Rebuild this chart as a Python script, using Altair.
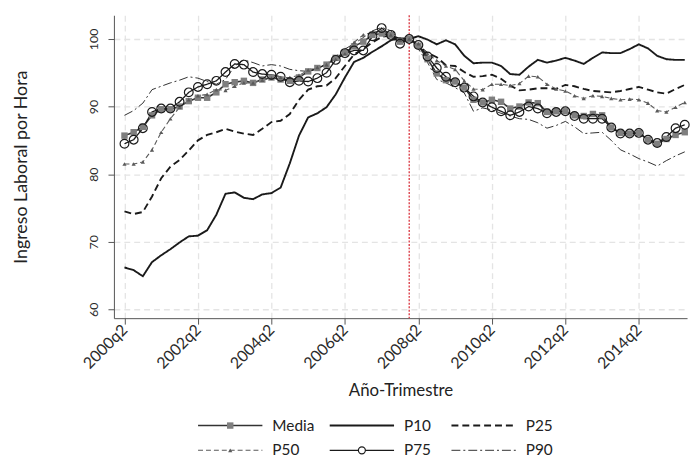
import altair as alt
import pandas as pd

SERIES = ["Media", "P10", "P25", "P50", "P75", "P90"]

MEDIA = [85.7, 86.2, 87.0, 88.7, 89.6, 89.6, 90.0, 90.8, 91.3, 91.3,
         92.1, 93.3, 93.6, 93.8, 93.5, 94.0, 94.3, 94.0, 93.8, 94.3,
         95.2, 95.7, 96.2, 97.2, 98.0, 98.9, 99.6, 100.6, 100.8, 100.6,
         99.6, 100.0, 99.0, 97.0, 94.9, 93.9, 93.7, 92.8, 91.0, 90.6,
         91.0, 90.7, 89.7, 90.0, 90.6, 90.5, 89.2, 89.3, 89.3, 88.7,
         88.6, 88.9, 88.7, 86.9, 86.1, 86.0, 86.1, 85.1, 84.5, 85.2,
         85.8, 86.2]
P10 = [66.2, 65.8, 64.9, 67.0, 68.0, 68.9, 69.9, 70.8, 70.9, 71.7,
       74.0, 77.1, 77.3, 76.5, 76.3, 77.0, 77.2, 78.0, 81.6, 85.7,
       88.4, 89.0, 89.9, 91.8, 94.3, 96.6, 97.2, 98.1, 98.9, 99.8,
       100.1, 100.0, 100.4, 99.9, 99.2, 99.8, 99.2, 97.5, 96.4, 96.5,
       96.5, 96.0, 94.8, 94.7, 95.9, 96.9, 96.5, 96.8, 97.2, 96.8,
       96.3, 97.2, 98.0, 97.9, 97.9, 98.5, 99.2, 98.6, 97.5, 97.0,
       96.9, 96.9]
P25 = [74.5, 74.1, 74.4, 76.7, 79.4, 81.1, 82.1, 83.5, 85.0, 85.8,
       86.2, 86.7, 86.3, 86.0, 85.8, 86.7, 87.7, 87.9, 88.9, 91.0,
       92.5, 93.0, 93.1, 94.2, 96.0, 97.7, 98.5, 99.5, 100.3, 100.5,
       100.0, 100.0, 99.0, 97.9, 97.3, 96.1, 96.0, 95.1, 94.4, 94.5,
       94.7, 94.1, 93.1, 92.4, 92.5, 92.7, 92.7, 92.6, 93.2, 93.0,
       92.6, 92.3, 92.2, 92.1, 92.3, 92.6, 92.9, 92.5, 92.1, 91.9,
       92.6, 93.2]
P50 = [81.5, 81.5, 81.8, 83.6, 86.2, 88.2, 89.9, 91.0, 91.6, 91.8,
       92.5, 92.4, 93.0, 93.5, 93.5, 93.9, 94.2, 94.3, 94.3, 94.6,
       95.4, 95.8, 96.2, 97.0, 97.8, 99.5, 100.6, 101.0, 101.2, 100.6,
       99.8, 100.0, 99.3, 97.8, 96.8, 96.0, 95.5, 93.8, 92.6, 92.5,
       93.3, 93.3, 93.1, 93.4, 94.5, 94.4, 93.3, 92.6, 92.3, 91.6,
       91.2, 91.6, 91.5, 91.2, 91.0, 91.1, 91.0, 90.5, 89.4, 89.2,
       89.9, 90.6]
P75 = [84.5, 85.1, 86.8, 89.2, 89.7, 89.7, 90.7, 92.1, 92.9, 93.3,
       93.8, 95.1, 96.3, 96.2, 95.1, 94.8, 94.7, 94.4, 93.6, 93.8,
       93.7, 94.2, 95.0, 96.9, 97.9, 98.3, 98.3, 100.4, 101.6, 100.6,
       99.3, 100.0, 99.1, 97.4, 95.7, 94.4, 93.6, 92.8, 91.5, 90.6,
       89.9, 89.3, 88.7, 89.2, 90.0, 89.7, 89.0, 89.2, 89.3, 88.6,
       88.2, 88.2, 88.2, 86.9, 86.0, 86.0, 86.1, 85.1, 84.6, 85.5,
       86.8, 87.3]
P90 = [88.7, 89.4, 90.5, 92.5, 93.0, 93.5, 93.9, 94.4, 94.2, 93.7,
       93.3, 94.0, 96.0, 96.9, 96.5, 96.0, 96.2, 96.0, 95.5, 95.3,
       95.2, 95.5, 96.4, 97.4, 98.5, 99.3, 100.2, 101.2, 101.7, 101.2,
       99.8, 100.0, 98.5, 96.5, 94.0, 93.5, 92.8, 92.0, 89.3, 89.8,
       89.5, 89.0, 88.6, 88.2, 88.1, 87.6, 86.8, 87.2, 87.8, 87.0,
       86.0, 86.1, 86.2, 85.0, 83.6, 83.0, 82.3, 81.8, 81.2, 82.0,
       82.7, 83.3]

TICK_VALUES = [0, 8, 16, 24, 32, 40, 48, 56]
TICK_LABELS = ["2000q2", "2002q2", "2004q2", "2006q2",
               "2008q2", "2010q2", "2012q2", "2014q2"]
Y_TICKS = [60, 70, 80, 90, 100]
BASE_Q = [31]  # 2008q1

FONT = "Lato"

STYLE = {
    "Media": dict(color="#333333", strokeWidth=1.6, strokeDash=[1, 0]),
    "P10": dict(color="#1a1a1a", strokeWidth=1.9, strokeDash=[1, 0]),
    "P25": dict(color="#1a1a1a", strokeWidth=1.9, strokeDash=[7, 4]),
    "P50": dict(color="#5a5a5a", strokeWidth=1.1, strokeDash=[5, 3]),
    "P75": dict(color="#1a1a1a", strokeWidth=1.3, strokeDash=[1, 0]),
    "P90": dict(color="#1a1a1a", strokeWidth=0.9, strokeDash=[9, 3, 2, 3]),
}
MARKERS = {
    "Media": dict(shape="square", filled=True, color="#7f7f7f", size=42, opacity=1),
    "P50": dict(shape="triangle-up", filled=True, color="#5a5a5a", size=18, opacity=1),
    "P75": dict(shape="circle", filled=False, color="#1a1a1a", size=78,
                strokeWidth=1.2, opacity=1),
}

rows = []
for name, vals in zip(SERIES, [MEDIA, P10, P25, P50, P75, P90]):
    for i, v in enumerate(vals):
        rows.append({"serie": name, "t": i, "v": v})
df = pd.DataFrame(rows)

W, H = 579, 306
label_expr = "[" + ",".join("'%s'" % s for s in TICK_LABELS) + "][indexof(" + \
    "[" + ",".join(str(v) for v in TICK_VALUES) + "], datum.value)]"

x_enc = alt.X("t:Q", scale=alt.Scale(domain=[-1.15, 61.25], nice=False, zero=False),
              axis=alt.Axis(values=TICK_VALUES, labelExpr=label_expr, labelAngle=-45,
                            labelAlign="right", labelBaseline="middle", labelPadding=3,
                            tickSize=6, grid=True, gridDash=[6, 4], gridColor="#e4e4e4",
                            gridWidth=1.3, domainColor="#555555", tickColor="#555555",
                            labelFont=FONT, labelFontSize=16, labelColor="#2a2a2a",
                            title="Año-Trimestre", titleFont=FONT, titleFontSize=17,
                            titleFontWeight="normal", titleColor="#222222",
                            titlePadding=11))
y_enc = alt.Y("v:Q", scale=alt.Scale(domain=[58.7, 103.5], nice=False, zero=False),
              axis=alt.Axis(values=Y_TICKS, labelAngle=-90, labelAlign="center",
                            labelBaseline="bottom", labelPadding=8, tickSize=6,
                            grid=True, gridDash=[6, 4], gridColor="#e4e4e4", gridWidth=1.3,
                            domainColor="#555555", tickColor="#555555",
                            labelFont=FONT, labelFontSize=12.5, labelColor="#2a2a2a",
                            title="Ingreso Laboral por Hora", titleFont=FONT,
                            titleFontSize=18, titleFontWeight="normal",
                            titleColor="#222222", titlePadding=57))

base = alt.Chart(df)
layers = []
red = alt.Chart(pd.DataFrame({"t": BASE_Q})).mark_rule(
    color="#d9343f", strokeWidth=1.3, strokeDash=[2, 1.5]).encode(x=x_enc)
layers.append(red)
for s in SERIES:
    layers.append(base.transform_filter(alt.datum.serie == s)
                  .mark_line(**STYLE[s]).encode(x=x_enc, y=y_enc))
for s in ["Media", "P50", "P75"]:
    layers.append(base.transform_filter(alt.datum.serie == s)
                  .mark_point(**MARKERS[s]).encode(x=x_enc, y=y_enc))

main = alt.layer(*layers).properties(width=W, height=H)

# ----- legend (built from SERIES) -----
LW, LH = W, 50
COL_X = [85, 218, 341]
LINE_LEN = 65
leg_rows = []
for i, s in enumerate(SERIES):
    c, r = i % 3, i // 3
    leg_rows.append({"serie": s, "row": r, "x0": COL_X[c], "x1": COL_X[c] + LINE_LEN,
                     "xm": COL_X[c] + LINE_LEN / 2, "xt": COL_X[c] + LINE_LEN + 10})
leg_df = pd.DataFrame(leg_rows)
lx = alt.Scale(domain=[0, LW], nice=False, zero=False)
ly = alt.Scale(domain=[-0.5, 1.5], reverse=True, nice=False, zero=False)
lbase = alt.Chart(leg_df)
leg_layers = []
for s in SERIES:
    leg_layers.append(lbase.transform_filter(alt.datum.serie == s).mark_rule(**STYLE[s]).encode(
        x=alt.X("x0:Q", scale=lx, axis=None), x2="x1:Q",
        y=alt.Y("row:Q", scale=ly, axis=None)))
for s in ["Media", "P50", "P75"]:
    m = dict(MARKERS[s])
    if s == "P75":
        m["size"] = 50
        m["fill"] = "white"
        m["filled"] = True
        m["stroke"] = "#1a1a1a"
        m.pop("color")
    leg_layers.append(lbase.transform_filter(alt.datum.serie == s).mark_point(**m).encode(
        x=alt.X("xm:Q", scale=lx, axis=None), y=alt.Y("row:Q", scale=ly, axis=None)))
leg_layers.append(lbase.mark_text(align="left", baseline="middle", font=FONT, fontSize=15.5,
                                  color="#222222").encode(
    x=alt.X("xt:Q", scale=lx, axis=None), y=alt.Y("row:Q", scale=ly, axis=None),
    text="serie:N"))
legend = alt.layer(*leg_layers).properties(width=LW, height=LH)

chart = alt.vconcat(main, legend, spacing=15).properties(
    padding={"left": 5, "top": 4, "right": 0, "bottom": 0}
).configure(font=FONT).configure_view(strokeWidth=0, stroke="transparent")

chart.save("out.html", embed_options={"renderer": "svg", "actions": False})
